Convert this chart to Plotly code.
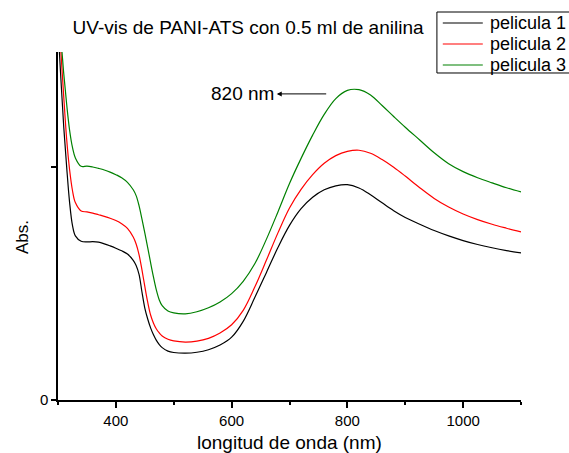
import plotly.graph_objects as go

# UV-vis absorbance spectra of three PANI-ATS films (0.5 ml aniline)
wavelength = [300, 305, 310, 315, 320, 325, 330,
              340, 350, 360, 370, 380, 390, 400, 410, 420, 430,
              435, 440, 445, 450, 455, 460, 465, 470, 475, 480,
              490, 500,
              520, 540, 560, 580, 600, 620, 640, 660, 680, 700, 720, 740, 760,
              780, 800, 820, 840, 860, 880, 900,
              925, 950, 975, 1000, 1025, 1050, 1075, 1100]

abs_p1 = [1.60, 1.38, 1.17, 1.00, 0.85, 0.75, 0.705,
          0.682, 0.679, 0.680, 0.678, 0.671, 0.662, 0.652, 0.641, 0.627, 0.600,
          0.578, 0.540, 0.465, 0.395, 0.348, 0.310, 0.280, 0.256, 0.238, 0.225,
          0.210, 0.204,
          0.201, 0.205, 0.216, 0.236, 0.270, 0.338, 0.440, 0.547, 0.655, 0.750,
          0.822, 0.871, 0.903, 0.920, 0.925, 0.911, 0.882, 0.847, 0.813, 0.784,
          0.755, 0.728, 0.705, 0.685, 0.668, 0.654, 0.642, 0.632]

abs_p2 = [1.68, 1.495, 1.30, 1.12, 0.99, 0.90, 0.848,
          0.812, 0.808, 0.803, 0.796, 0.789, 0.781, 0.771, 0.757, 0.737, 0.700,
          0.670, 0.625, 0.560, 0.488, 0.420, 0.365, 0.330, 0.305, 0.288, 0.275,
          0.261, 0.254,
          0.249, 0.253, 0.265, 0.288, 0.323, 0.385, 0.485, 0.600, 0.718, 0.825,
          0.905, 0.968, 1.017, 1.050, 1.068, 1.073, 1.060, 1.033, 1.000, 0.962,
          0.912, 0.866, 0.829, 0.799, 0.775, 0.755, 0.738, 0.722]

abs_p3 = [1.66, 1.55, 1.40, 1.27, 1.16, 1.085, 1.04,
          1.004, 1.005, 1.001, 0.995, 0.988, 0.979, 0.968, 0.955, 0.935, 0.903,
          0.878, 0.835, 0.778, 0.718, 0.655, 0.590, 0.528, 0.472, 0.430, 0.405,
          0.382, 0.374,
          0.370, 0.379, 0.396, 0.421, 0.457, 0.510, 0.585, 0.690, 0.808, 0.930,
          1.038, 1.138, 1.227, 1.295, 1.330, 1.333, 1.310, 1.265, 1.218, 1.172,
          1.117, 1.062, 1.015, 0.981, 0.955, 0.933, 0.912, 0.894]

series_names = ["pelicula 1", "pelicula 2", "pelicula 3"]
series_colors = ["#000000", "#ff0000", "#008000"]

FONT = "Arial, 'Liberation Sans', sans-serif"

fig = go.Figure()
for ab, name, color in zip([abs_p1, abs_p2, abs_p3], series_names, series_colors):
    fig.add_trace(go.Scatter(
        x=wavelength, y=ab, mode="lines", name=name, showlegend=False,
        line=dict(color=color, width=1.2, shape="spline", smoothing=1.0),
    ))

# boxed legend in the top-right corner (paper coordinates)
fig.add_shape(type="rect", xref="paper", yref="paper",
              x0=0.8184, x1=1.12, y0=0.9397, y1=1.1149,
              line=dict(color="black", width=1), fillcolor="white", layer="above")
legend_rows = [1.0833, 1.0230, 0.9626]
for row_y, name, color in zip(legend_rows, series_names, series_colors):
    fig.add_shape(type="line", xref="paper", yref="paper",
                  x0=0.8311, x1=0.9175, y0=row_y, y1=row_y,
                  line=dict(color=color, width=1.2), layer="above")
    fig.add_annotation(x=0.9283, y=row_y, xref="paper", yref="paper", text=name,
                       showarrow=False, xanchor="left", yanchor="middle",
                       font=dict(size=18, color="black", family=FONT))

# peak marker for pelicula 3
fig.add_annotation(x=678, y=1.315, ax=766, ay=1.315, xref="x", yref="y",
                   axref="x", ayref="y", text="", showarrow=True,
                   arrowhead=2, arrowsize=1, arrowwidth=1, arrowcolor="black",
                   standoff=0)
fig.add_annotation(x=676, y=1.315, xref="x", yref="y", text="820 nm",
                   showarrow=False, xanchor="right", yanchor="middle",
                   font=dict(size=19, color="black", family=FONT))

# axis titles
fig.add_annotation(x=-0.078, y=0.468, xref="paper", yref="paper", text="Abs.",
                   textangle=-90, showarrow=False, xanchor="center",
                   yanchor="middle", font=dict(size=17, color="black", family=FONT))
fig.add_annotation(x=0.5, y=-0.1207, xref="paper", yref="paper",
                   text="longitud de onda (nm)", showarrow=False,
                   xanchor="center", yanchor="middle",
                   font=dict(size=19, color="black", family=FONT))

fig.update_layout(
    width=569, height=453,
    margin=dict(l=58, r=48, t=52, b=53, autoexpand=False),
    paper_bgcolor="white", plot_bgcolor="white",
    font=dict(family=FONT, color="black"),
    title=dict(text="UV-vis de PANI-ATS con 0.5 ml de anilina",
               x=0.436, xref="container", xanchor="center",
               y=0.94, yref="container", yanchor="middle",
               font=dict(size=19, color="black", family=FONT)),
    showlegend=False,
)

fig.update_xaxes(
    range=[300, 1100], showgrid=False, zeroline=False,
    showline=True, linecolor="black", linewidth=1.5,
    tickmode="linear", tick0=0, dtick=200,
    ticks="outside", ticklen=6, tickwidth=1.5, tickcolor="black",
    tickfont=dict(size=15, color="black", family=FONT),
    minor=dict(ticks="outside", ticklen=3, tickwidth=1.5, tickcolor="black",
               tick0=0, dtick=100, showgrid=False),
)
fig.update_yaxes(
    range=[0, 1.495], showgrid=False, zeroline=False,
    showline=True, linecolor="black", linewidth=1.5,
    tickmode="array", tickvals=[0, 1], ticktext=["0", ""],
    ticks="outside", ticklen=5, tickwidth=1.5, tickcolor="black",
    tickfont=dict(size=15, color="black", family=FONT),
)

fig.write_html("out.html")
